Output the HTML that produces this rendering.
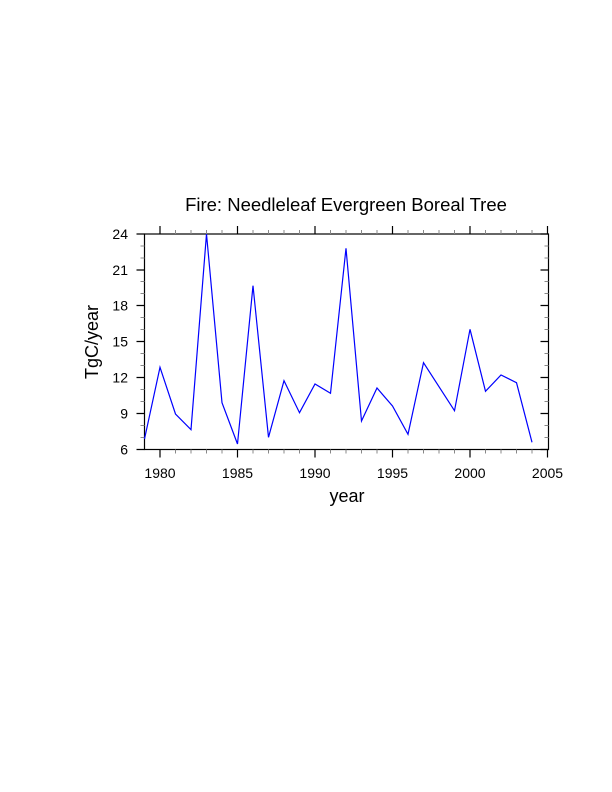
<html><body style="margin:0;background:#fff">
<svg width="612" height="792" xmlns="http://www.w3.org/2000/svg" font-family="Liberation Sans, sans-serif">
<g stroke="#000" stroke-width="1.2" fill="none">
<rect x="144.5" y="234" width="404" height="215.5"/>
<path d="
M160,449.5v8M237.5,449.5v8M315,449.5v8M392.5,449.5v8M470,449.5v8M547.5,449.5v8
M160,234v-8M237.5,234v-8M315,234v-8M392.5,234v-8M470,234v-8M547.5,234v-8
M144.5,449.5h-8M144.5,413.5h-8M144.5,377.5h-8M144.5,341.5h-8M144.5,305.5h-8M144.5,270h-8M144.5,234h-8
M548.5,449.5h-8M548.5,413.5h-8M548.5,377.5h-8M548.5,341.5h-8M548.5,305.5h-8M548.5,270h-8M548.5,234h-8"/>
</g>
<g stroke="#888" stroke-width="1">
<path d="M175.5,449.5v4M191,449.5v4M206.5,449.5v4M222,449.5v4M253,449.5v4M268.5,449.5v4M284,449.5v4M299.5,449.5v4M330.5,449.5v4M346,449.5v4M361.5,449.5v4M377,449.5v4M408,449.5v4M423.5,449.5v4M439,449.5v4M454.5,449.5v4M485.5,449.5v4M501,449.5v4M516.5,449.5v4M532,449.5v4
M175.5,234v-4M191,234v-4M206.5,234v-4M222,234v-4M253,234v-4M268.5,234v-4M284,234v-4M299.5,234v-4M330.5,234v-4M346,234v-4M361.5,234v-4M377,234v-4M408,234v-4M423.5,234v-4M439,234v-4M454.5,234v-4M485.5,234v-4M501,234v-4M516.5,234v-4M532,234v-4
M144.5,437.5h-4M144.5,425.5h-4M144.5,401.5h-4M144.5,389.5h-4M144.5,365.5h-4M144.5,353.5h-4M144.5,329.5h-4M144.5,317.5h-4M144.5,293.5h-4M144.5,281.5h-4M144.5,258h-4M144.5,246h-4
M548.5,437.5h-4M548.5,425.5h-4M548.5,401.5h-4M548.5,389.5h-4M548.5,365.5h-4M548.5,353.5h-4M548.5,329.5h-4M548.5,317.5h-4M548.5,293.5h-4M548.5,281.5h-4M548.5,258h-4M548.5,246h-4"/>
</g>
<polyline fill="none" stroke="#00f" stroke-width="1.2" points="144.5,439 160,367.3 175.5,414 191,429.7 206.5,234 222,402.7 237.5,444 253,285.7 268.5,437.3 284,380.7 299.5,412.7 315,384 330.5,393.3 346,248.3 361.5,421 377,388 392.5,406 408,434.3 423.5,362.7 454.5,410.7 470,329.3 485.5,391.3 501,375 516.5,382.7 532,442.3"/>
<g font-size="14" fill="#000" text-anchor="end">
<text x="128" y="454.5">6</text><text x="128" y="418.5">9</text><text x="128" y="382.5">12</text><text x="128" y="346.5">15</text><text x="128" y="310.5">18</text><text x="128" y="275">21</text><text x="128" y="239">24</text>
</g>
<g font-size="14" fill="#000" text-anchor="middle">
<text x="160" y="478">1980</text><text x="237.5" y="478">1985</text><text x="315" y="478">1990</text><text x="392.5" y="478">1995</text><text x="470" y="478">2000</text><text x="547.5" y="478">2005</text>
</g>
<text x="346" y="211" font-size="18.5" text-anchor="middle">Fire: Needleleaf Evergreen Boreal Tree</text>
<text x="347" y="502" font-size="18" text-anchor="middle">year</text>
<text transform="translate(98,342) rotate(-90)" font-size="18" text-anchor="middle">TgC/year</text>
</svg>
</body></html>
